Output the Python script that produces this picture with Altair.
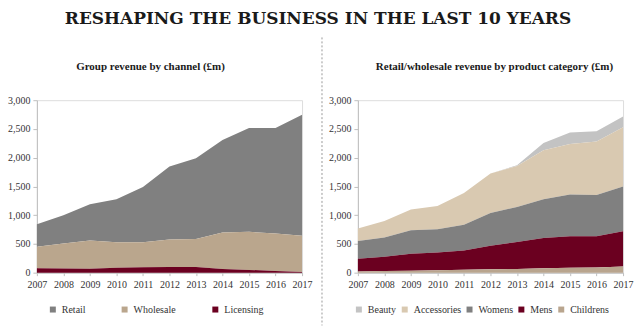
import altair as alt
import pandas as pd

years = [2007, 2008, 2009, 2010, 2011, 2012, 2013, 2014, 2015, 2016, 2017]

# Group revenue by channel (£m)
channels = ["Retail", "Wholesale", "Licensing"]
retail = [392, 490, 628, 745, 957, 1269, 1405, 1610, 1807, 1835, 2104]
wholesale = [375, 436, 490, 445, 439, 477, 485, 633, 662, 654, 631]
licensing = [75, 72, 70, 85, 92, 100, 100, 65, 48, 28, 10]
channel_colors = ["#808080", "#baa68d", "#6b0020"]

# Retail/wholesale revenue by product category (£m)
categories = ["Beauty", "Accessories", "Womens", "Mens", "Childrens"]
beauty = [0, 0, 0, 0, 0, 0, 13, 127, 200, 180, 188]
accessories = [218, 290, 364, 407, 553, 684, 712, 853, 880, 928, 1030]
womens = [310, 335, 406, 403, 447, 569, 609, 674, 726, 720, 778]
mens = [218, 248, 295, 308, 335, 412, 469, 528, 549, 542, 617]
childrens = [22, 27, 35, 42, 50, 58, 65, 75, 85, 90, 105]
category_colors = ["#c3c3c3", "#d9c9b1", "#808080", "#6b0020", "#b9a58e"]

title_text = "RESHAPING THE BUSINESS IN THE LAST 10 YEARS"
left_title = "Group revenue by channel (£m)"
right_title = "Retail/wholesale revenue by product category (£m)"
y_ticks = [0, 500, 1000, 1500, 2000, 2500, 3000]

SERIF = "Liberation Serif"
TITLE_FONT = "DejaVu Serif"

def long_df(names, series):
    rows = []
    for rank, (n, s) in enumerate(zip(names, series)):
        for y, v in zip(years, s):
            rows.append({"year": y, "series": n, "value": v, "rank": len(names) - rank})
    return pd.DataFrame(rows)

left_df = long_df(channels, [retail, wholesale, licensing])
right_df = long_df(categories, [beauty, accessories, womens, mens, childrens])

W, H = 266, 173
PL, PT = 36, 99
SP = 56

def x_enc():
    return alt.X("year:Q", scale=alt.Scale(domain=[2007, 2017], nice=False, zero=False),
                 axis=alt.Axis(values=years, format="d", title=None, grid=False,
                               labelFont=SERIF, labelFontSize=10, labelColor="#333333",
                               domainColor="#bfbfbf", tickColor="#bfbfbf", tickSize=3,
                               labelPadding=4, labelFlush=False))

def y_enc():
    return alt.Y("value:Q", stack="zero", scale=alt.Scale(domain=[0, 3000], nice=False),
                 axis=alt.Axis(values=y_ticks, format=",.0f", title=None, grid=False,
                               labelFont=SERIF, labelFontSize=10, labelColor="#333333",
                               domainColor="#bfbfbf", tickColor="#bfbfbf", tickSize=4,
                               labelPadding=3))

def text_layer(txt, x, y, size, font=SERIF, weight="bold"):
    return alt.Chart(pd.DataFrame({"t": [txt]})).mark_text(
        font=font, fontSize=size, fontWeight=weight, color="#1a1a1a",
        align="center", baseline="middle"
    ).encode(text="t:N", x=alt.value(x), y=alt.value(y))

def corner(x, y):
    return alt.Chart(pd.DataFrame({"c": [0]})).mark_point(
        size=0, opacity=0, strokeWidth=0
    ).encode(x=alt.value(x), y=alt.value(y))

def panel(df, names, colors, lx, colpad):
    return alt.Chart(df).mark_area(opacity=1).encode(
        x=x_enc(),
        y=y_enc(),
        color=alt.Color("series:N", scale=alt.Scale(domain=names, range=colors),
                        legend=alt.Legend(title=None, orient="none", direction="horizontal",
                                          legendX=lx, legendY=205, symbolType="square",
                                          symbolSize=36, symbolStrokeWidth=0, padding=0,
                                          labelFont=SERIF, labelFontSize=10,
                                          labelColor="#333333", columnPadding=colpad,
                                          labelOffset=4)),
        order=alt.Order("rank:Q", sort="ascending"),
    ).properties(width=W, height=H)

left = alt.layer(
    panel(left_df, channels, channel_colors, 11, 34),
    text_layer(left_title, 150 - PL, 66 - PT, 11),
    text_layer(title_text, 318 - PL, 18 - PT, 17, font=TITLE_FONT),
    corner(-PL, -PT),
)

RX = PL + W + SP  # right plot left edge in page px

divider = alt.Chart(pd.DataFrame({"d": [0]})).mark_rule(
    color="#9a9a9a", strokeDash=[2, 2], strokeWidth=1
).encode(x=alt.value(322 - RX), y=alt.value(36 - PT), y2=alt.value(325 - PT))

right = alt.layer(
    panel(right_df, categories, category_colors, -4, 3),
    text_layer(right_title, 495 - RX, 66 - PT, 11),
    divider,
    corner(640 - RX, 326 - PT),
)

chart = alt.hconcat(left, right, spacing=SP, bounds="flush").resolve_scale(
    color="independent"
).resolve_legend(color="independent").properties(
    padding=0,
).configure_view(stroke=None).configure(background="white", font=SERIF)

chart.save("out.html", embed_options={"renderer": "svg", "actions": False})
